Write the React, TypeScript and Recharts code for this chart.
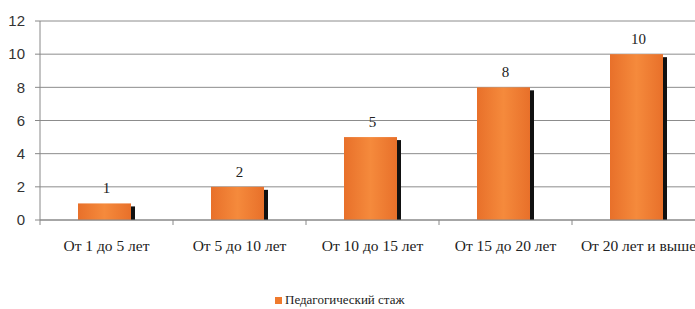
import React from "react";
import { BarChart, Bar, XAxis, YAxis, CartesianGrid, LabelList, Legend } from "recharts";

const categories = ["От 1 до 5 лет", "От 5 до 10 лет", "От 10 до 15 лет", "От 15 до 20 лет", "От 20 лет и выше"];
const values = [1, 2, 5, 8, 10];
const yTicks = [0, 2, 4, 6, 8, 10, 12];
const seriesName = "Педагогический стаж";

const data = categories.map((c, i) => ({ name: c, value: values[i] }));

const ORANGE = "#EF7A2D";

const BarShape = (props: any) => {
  const { x, y, width, height } = props;
  if (!height || height <= 0) return null;
  const sw = 4;
  return (
    <g>
      <rect x={x + width - sw} y={y + 3} width={sw} height={height - 3} fill="#111" />
      <rect x={x} y={y} width={width - sw} height={height} fill="url(#barGrad)" />
    </g>
  );
};

const XTick = (props: any) => {
  const { x, y, payload, width, visibleTicksCount, index } = props;
  const bw = width / visibleTicksCount;
  const axisY = y;
  return (
    <g>
      <line x1={x - bw / 2} x2={x - bw / 2} y1={axisY} y2={axisY + 5} stroke="#888" />
      {index === visibleTicksCount - 1 && (
        <line x1={x + bw / 2} x2={x + bw / 2} y1={axisY} y2={axisY + 5} stroke="#888" />
      )}
      <text x={x} y={axisY + 31} textAnchor="middle" fontFamily="Liberation Serif, serif" fontSize={15.5} fill="#222">
        {payload.value}
      </text>
    </g>
  );
};

const LegendContent = () => (
  <div style={{ display: "flex", alignItems: "center", fontFamily: "Liberation Serif, serif", fontSize: 13, color: "#222", lineHeight: "14px" }}>
    <span style={{ display: "inline-block", width: 7, height: 7, background: ORANGE, marginRight: 3 }} />
    <span>{seriesName}</span>
  </div>
);

export default function App() {
  return (
    <div style={{ position: "absolute", left: 0, top: 0, width: 695, height: 309, overflow: "hidden", background: "#fff" }}>
      <BarChart width={705} height={309} data={data} margin={{ top: 21, right: 0, bottom: 49, left: 0 }} barCategoryGap={0}>
        <defs>
          <linearGradient id="barGrad" x1="0" x2="1" y1="0" y2="0">
            <stop offset="0%" stopColor="#E8702A" />
            <stop offset="50%" stopColor="#F58A3C" />
            <stop offset="100%" stopColor="#E8702A" />
          </linearGradient>
        </defs>
        <CartesianGrid vertical={false} stroke="#8c8c8c" strokeWidth={1} />
        <XAxis
          dataKey="name"
          interval={0}
          tickLine={false}
          tickSize={0}
          tickMargin={0}
          axisLine={{ stroke: "#888" }}
          tick={<XTick />}
          height={40}
        />
        <YAxis
          domain={[0, 12]}
          ticks={yTicks}
          interval={0}
          width={40}
          tickSize={5}
          tickMargin={10}
          axisLine={{ stroke: "#888" }}
          tickLine={{ stroke: "#888" }}
          tick={{ fill: "#333", fontSize: 15, fontFamily: "Liberation Sans, sans-serif" }}
        />
        <Bar dataKey="value" name={seriesName} fill={ORANGE} barSize={57} shape={<BarShape />} isAnimationActive={false}>
          <LabelList dataKey="value" position="top" offset={10} fill="#222" fontSize={15} fontFamily="Liberation Serif, serif" />
        </Bar>
        <Legend
          content={<LegendContent />}
          wrapperStyle={{ position: "absolute", left: 275, top: 293, width: 160, height: 0, bottom: "auto", overflow: "visible" }}
        />
      </BarChart>
    </div>
  );
}
